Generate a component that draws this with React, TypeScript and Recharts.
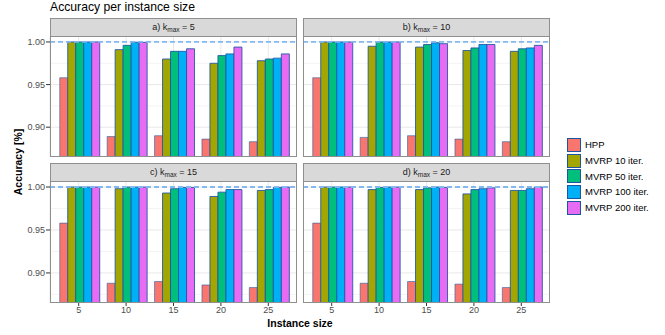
import React from 'react';
import { BarChart, Bar, XAxis, YAxis, CartesianGrid, ReferenceLine } from 'recharts';

const sizes = ['5', '10', '15', '20', '25'];
const seriesNames = ['HPP', 'MVRP 10 iter.', 'MVRP 50 iter.', 'MVRP 100 iter.', 'MVRP 200 iter.'];
const seriesColors = ['#F8766D', '#A3A500', '#00BF7D', '#00B0F6', '#E76BF3'];
const yTicks = [0.9, 0.95, 1.0];
const yMinor = [0.875, 0.925, 0.975];

// a) kmax = 5
const hppA = [0.958, 0.889, 0.89, 0.886, 0.883];
const m10A = [1.0, 0.991, 0.98, 0.975, 0.978];
const m50A = [1.0, 0.996, 0.989, 0.984, 0.98];
const m100A = [1.0, 0.9996, 0.989, 0.986, 0.981];
const m200A = [1.0, 0.9995, 0.992, 0.994, 0.986];

// b) kmax = 10
const hppB = [0.958, 0.888, 0.89, 0.886, 0.883];
const m10B = [1.0, 0.995, 0.994, 0.99, 0.989];
const m50B = [1.0, 1.0, 0.997, 0.993, 0.992];
const m100B = [1.0, 1.0, 0.999, 0.997, 0.993];
const m200B = [1.0, 1.0, 0.998, 0.997, 0.996];

// c) kmax = 15
const hppC = [0.958, 0.888, 0.89, 0.886, 0.883];
const m10C = [1.0, 0.998, 0.993, 0.989, 0.996];
const m50C = [1.0, 1.0, 0.998, 0.994, 0.997];
const m100C = [1.0, 1.0, 0.9995, 0.997, 0.9995];
const m200C = [1.0, 1.0, 0.9995, 0.997, 1.0];

// d) kmax = 20
const hppD = [0.958, 0.888, 0.89, 0.887, 0.883];
const m10D = [1.0, 0.997, 0.997, 0.992, 0.996];
const m50D = [1.0, 0.9995, 0.999, 0.997, 0.996];
const m100D = [1.0, 1.0, 1.0, 0.998, 0.998];
const m200D = [1.0, 1.0, 0.9995, 0.999, 1.0];

const keys = ['hpp', 'm10', 'm50', 'm100', 'm200'];

const toRows = (cols: number[][]) =>
  sizes.map((s, i) => {
    const row: Record<string, any> = { size: s };
    keys.forEach((k, j) => (row[k] = cols[j][i]));
    return row;
  });

const FONT = '"Liberation Sans", Arial, Helvetica, sans-serif';
const BORDER = '#8f8f8f';
const OUTLINE = '#1d55a3';

type PanelProps = {
  data: any[];
  label: string;
  kmax: string;
  left: number;
  top: number;
  height: number;
  showY: boolean;
  showX: boolean;
};

const Panel = ({ data, label, kmax, left, top, height, showY, showX }: PanelProps) => {
  const plotW = 247;
  const yW = showY ? 50 : 0;
  const xH = showX ? 22 : 0;
  return (
    <>
      <div
        style={{
          position: 'absolute', left: left, top: top - 18, width: plotW, height: 19,
          boxSizing: 'border-box', background: '#d9d9d9', border: `1px solid ${BORDER}`,
          fontSize: 9, color: '#1a1a1a', textAlign: 'center', lineHeight: '17px', fontFamily: FONT,
        }}
      >
        {label} k<sub style={{ fontSize: 6.5, verticalAlign: '-2px' }}>max</sub> = {kmax}
      </div>
      <div style={{ position: 'absolute', left: left - yW, top: top }}>
        <BarChart
          width={plotW + yW}
          height={height + xH}
          data={data}
          margin={{ top: 0, right: 0, bottom: 0, left: 0 }}
          barCategoryGap="10%"
          barGap={0}
        >
          <CartesianGrid stroke="#f4f4f4" vertical={false} horizontalValues={yMinor} />
          <CartesianGrid stroke="#e8e8e8" horizontalValues={yTicks} />
          <XAxis
            dataKey="size"
            hide={!showX}
            height={xH || 1}
            padding={{ left: 5, right: 5 }}
            axisLine={false}
            tickSize={3}
            tickMargin={1}
            tickLine={{ stroke: '#333' }}
            tick={{ fontSize: 9, fill: '#4d4d4d', fontFamily: FONT }}
          />
          <YAxis
            type="number"
            hide={!showY}
            width={yW || 1}
            domain={[0.865, 1.007]}
            allowDataOverflow
            ticks={yTicks}
            tickFormatter={(v: number) => v.toFixed(2)}
            axisLine={false}
            tickSize={4}
            tickMargin={1}
            tickLine={{ stroke: '#333' }}
            tick={{ fontSize: 9, fill: '#4d4d4d', fontFamily: FONT }}
          />
          {keys.map((k, i) => (
            <Bar
              key={k}
              dataKey={k}
              name={seriesNames[i]}
              fill={seriesColors[i]}
              stroke={OUTLINE}
              strokeOpacity={i === 0 ? 0.55 : 0.85}
              strokeWidth={1}
              isAnimationActive={false}
            />
          ))}
          <ReferenceLine y={1} stroke="#84b9ef" strokeWidth={1.8} strokeDasharray="5 3" />
        </BarChart>
      </div>
      <div
        style={{
          position: 'absolute', left: left, top: top, width: plotW, height: height,
          boxSizing: 'border-box', border: `1px solid ${BORDER}`, pointerEvents: 'none',
        }}
      />
    </>
  );
};

const App = () => {
  return (
    <div style={{ position: 'absolute', left: 0, top: 0, width: 665, height: 335, background: '#fff', fontFamily: FONT }}>
      <div style={{ position: 'absolute', left: 50, top: 0, fontSize: 12.2, lineHeight: '14px', color: '#000' }}>
        Accuracy per instance size
      </div>

      <Panel data={toRows([hppA, m10A, m50A, m100A, m200A])} label="a)" kmax="5" left={50} top={36} height={121} showY showX={false} />
      <Panel data={toRows([hppB, m10B, m50B, m100B, m200B])} label="b)" kmax="10" left={303} top={36} height={121} showY={false} showX={false} />
      <Panel data={toRows([hppC, m10C, m50C, m100C, m200C])} label="c)" kmax="15" left={50} top={181} height={122} showY showX />
      <Panel data={toRows([hppD, m10D, m50D, m100D, m200D])} label="d)" kmax="20" left={303} top={181} height={122} showY={false} showX />

      <div
        style={{
          position: 'absolute', left: 18, top: 162, transform: 'translate(-50%, -50%) rotate(-90deg)',
          fontSize: 10.5, fontWeight: 'bold', whiteSpace: 'nowrap', color: '#000',
        }}
      >
        Accuracy [%]
      </div>
      <div
        style={{
          position: 'absolute', left: 300, top: 323, transform: 'translate(-50%, -50%)',
          fontSize: 10.5, fontWeight: 'bold', whiteSpace: 'nowrap', color: '#000',
        }}
      >
        Instance size
      </div>

      <div style={{ position: 'absolute', left: 567, top: 137 }}>
        {seriesNames.map((n, i) => (
          <div key={n} style={{ display: 'flex', alignItems: 'center', height: 15.7 }}>
            <div
              style={{
                width: 14, height: 14, boxSizing: 'border-box', background: seriesColors[i],
                border: `1px solid ${OUTLINE}`, opacity: 1,
              }}
            />
            <span style={{ marginLeft: 4, fontSize: 9.5, color: '#000' }}>{n}</span>
          </div>
        ))}
      </div>
    </div>
  );
};

export default App;
